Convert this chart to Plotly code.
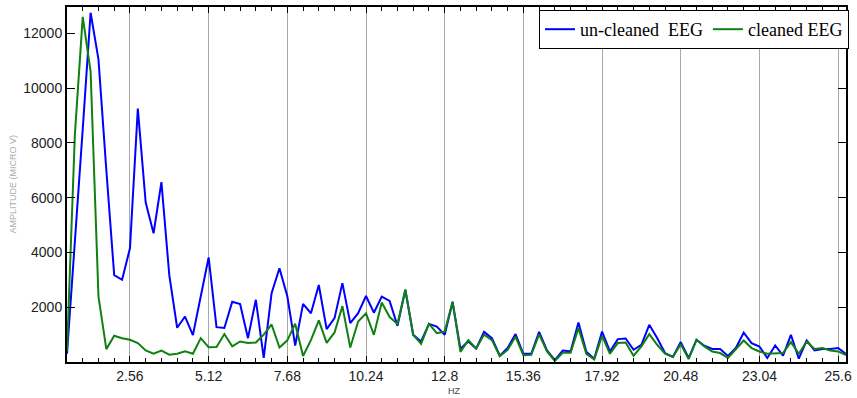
import plotly.graph_objects as go

# frequency bins (Hz): 0.512 .. 25.856 in steps of 0.256
freq_start = 0.512
freq_step = 0.256
uncleaned = [300, 4300, 8500, 12750, 11050, 7000, 3170, 3000, 4150, 9250,
             5820, 4700, 6570, 3170, 1250, 1660, 980, 2400, 3820, 1270,
             1240, 2200, 2120, 870, 2270, 150, 2510, 3420, 2400, 600,
             2120, 1780, 2810, 1200, 1600, 2880, 1420, 1780, 2410, 1800,
             2390, 2230, 1320, 2630, 990, 750, 1390, 1290, 990, 2190,
             480, 750, 490, 1100, 870, 230, 510, 1020, 300, 300,
             1100, 420, 70, 420, 390, 1440, 370, 120, 1110, 385,
             836, 860, 447, 629, 1356, 873, 327, 182, 727, 145,
             811, 593, 473, 473, 220, 509, 1076, 691, 567, 145,
             604, 229, 993, 120, 785, 422, 473, 473, 509, 290]
cleaned = [400, 8300, 12600, 10600, 2390, 470, 960, 870, 810, 690,
           420, 300, 420, 265, 300, 390, 300, 870, 540, 550,
           1020, 570, 750, 690, 710, 1000, 1370, 530, 790, 1400,
           220, 800, 1520, 700, 1080, 2040, 530, 1480, 1780, 990,
           2170, 1640, 1390, 2650, 990, 665, 1390, 1050, 1110, 2200,
           370, 800, 490, 1000, 800, 215, 440, 920, 250, 260,
           1010, 385, 40, 340, 340, 1236, 300, 95, 956, 300,
           691, 713, 229, 567, 1018, 629, 302, 182, 650, 109,
           811, 567, 385, 327, 150, 473, 785, 509, 385, 302,
           302, 327, 727, 302, 749, 473, 509, 422, 385, 254]
freqs = [round(freq_start + freq_step * i, 3) for i in range(len(uncleaned))]

x_tickvals = [2.56, 5.12, 7.68, 10.24, 12.8, 15.36, 17.92, 20.48, 23.04, 25.6]
x_ticktext = ["2.56", "5.12", "7.68", "10.24", "12.8", "15.36", "17.92", "20.48", "23.04", "25.6"]
y_tickvals = [2000, 4000, 6000, 8000, 10000, 12000]
y_ticktext = ["2000", "4000", "6000", "8000", "10000", "12000"]

fig = go.Figure()
fig.add_trace(go.Scatter(x=freqs, y=uncleaned, mode="lines",
                         name="un-cleaned\u00a0 EEG",
                         line=dict(color="#0000ff", width=2)))
fig.add_trace(go.Scatter(x=freqs, y=cleaned, mode="lines",
                         name="cleaned EEG",
                         line=dict(color="#108010", width=2)))

tickfont = dict(family="Liberation Sans, Arial, sans-serif", size=14, color="#222")

fig.update_layout(
    width=857, height=398,
    margin=dict(l=67, r=5, t=6, b=36),
    paper_bgcolor="white", plot_bgcolor="white",
    showlegend=True,
    legend=dict(
        orientation="h",
        x=(855 - 67) / 785, xanchor="right",
        y=1 - (9 - 6) / 356, yanchor="top",
        bgcolor="white", bordercolor="black", borderwidth=1,
        font=dict(family="Liberation Serif, Times New Roman, serif", size=18, color="black"),
        itemwidth=30, tracegroupgap=0,
    ),
    xaxis=dict(
        range=[0.512, 25.856],
        tickvals=x_tickvals, ticktext=x_ticktext,
        ticks="inside", ticklen=6, tickwidth=1, tickcolor="black",
        minor=dict(dtick=0.512, tick0=0.512, ticks="inside", ticklen=4,
                   tickcolor="black", showgrid=False),
        showgrid=True, gridcolor="#a8a8a8", gridwidth=1,
        showline=True, linecolor="black", linewidth=2, mirror="allticks",
        zeroline=False, tickfont=tickfont,
    ),
    yaxis=dict(
        range=[0, 12960],
        tickvals=y_tickvals, ticktext=y_ticktext,
        ticks="inside", ticklen=8, tickwidth=1, tickcolor="black",
        showgrid=False,
        showline=True, linecolor="black", linewidth=2, mirror="allticks",
        zeroline=False, tickfont=tickfont,
    ),
    annotations=[
        dict(text="AMPLITUDE (MICRO V)", textangle=-90,
             xref="paper", yref="paper", x=0, y=0.5,
             xanchor="center", yanchor="middle", xshift=-55, showarrow=False,
             font=dict(family="Liberation Sans, Arial, sans-serif", size=9, color="#aaa")),
        dict(text="HZ", xref="paper", yref="paper",
             x=(457 - 67) / 785, y=0, xanchor="center", yanchor="middle",
             yshift=-29, showarrow=False,
             font=dict(family="Liberation Sans, Arial, sans-serif", size=9, color="#444")),
    ],
)

fig.write_html("out.html", config={"displayModeBar": False},
               post_script="document.body.style.margin='0';")
